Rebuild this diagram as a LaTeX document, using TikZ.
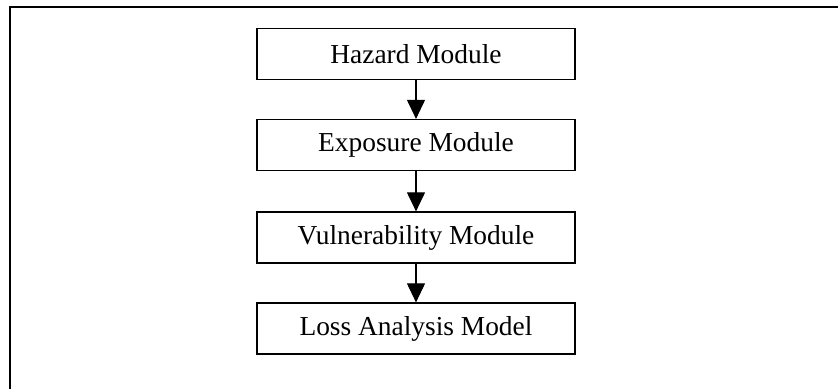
\documentclass[tikz,border=0pt]{standalone}
\usepackage{fontspec}
\setmainfont{Liberation Serif}
\usepackage{tikz}
\usetikzlibrary{arrows.meta}

\begin{document}
\begin{tikzpicture}[x=0.02cm,y=-0.02cm]
    \tikzstyle{module}=[draw,text=black,line width=0.7pt,fill=white,minimum width=6.36cm,minimum height=1.02cm,font=\fontsize{15.6}{18}\selectfont]
    \tikzstyle{edge} = [draw,line width=0.6pt,-{Triangle[width=0.36cm,length=0.38cm]}]

    \useasboundingbox (0,0) rectangle (838,389);
    % frame of the figure (only top and left edge show)
    \draw[line width=1.3pt] (10,389) -- (10,7) -- (838,7);

    \node[module] (hazard) at (416,54) {Hazard Module};
    \node[module] (exposure) at (416,145) {Exposure Module};
    \node[module] (vuln) at (416,237.5) {Vulnerability Module};
    \node[module] (loss) at (416,328.5) {Loss Analysis Model};

    \path[edge] (hazard) -- (exposure);
    \path[edge] (exposure) -- (vuln);
    \path[edge] (vuln) -- (loss);

\end{tikzpicture}
\end{document}
